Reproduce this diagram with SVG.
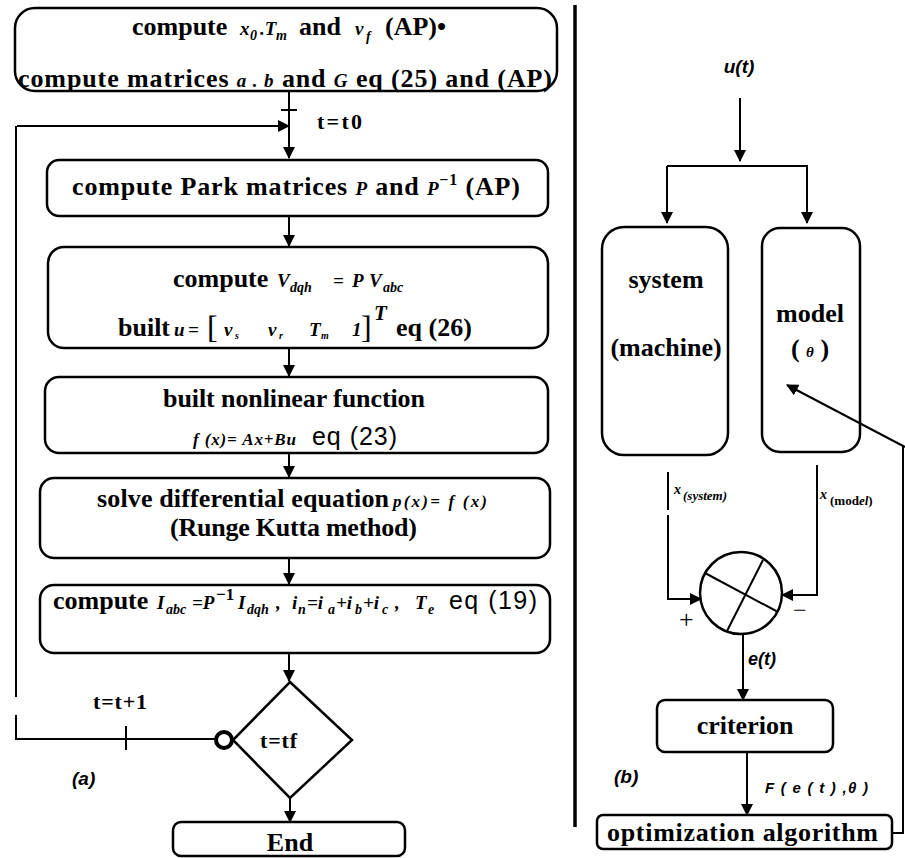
<svg xmlns="http://www.w3.org/2000/svg" width="905" height="858" viewBox="0 0 905 858">
<style>
.box{fill:none;stroke:#000;stroke-width:2.5}
.ln{fill:none;stroke:#000;stroke-width:2}
.t{font-family:"Liberation Serif",serif;font-size:26px;font-weight:bold;fill:#000}
.r{font-family:"Liberation Serif",serif;font-size:22px;font-weight:bold;fill:#000}
.m{font-family:"Liberation Serif",serif;font-style:italic;font-weight:bold;font-size:19px;fill:#000}
.sb{font-family:"Liberation Serif",serif;font-style:italic;font-weight:bold;font-size:14px;fill:#000}
.eq{font-family:"Liberation Sans",sans-serif;font-weight:normal;font-size:25px;fill:#000}
.it{font-family:"Liberation Sans",sans-serif;font-style:italic;font-weight:bold;fill:#000}
</style>
<defs>
<marker id="ar" markerWidth="12" markerHeight="12" refX="11" refY="6" orient="auto" markerUnits="userSpaceOnUse">
<path d="M0,0 L12,6 L0,12 Z" fill="#000"/>
</marker>
</defs>
<rect width="905" height="858" fill="#fff"/>

<!-- divider -->
<line x1="575" y1="5" x2="575" y2="827" stroke="#000" stroke-width="3.5"/>

<g id="connectors">
  <line class="ln" x1="289" y1="91" x2="289" y2="158" marker-end="url(#ar)"/>
  <line class="ln" x1="281" y1="110" x2="297" y2="110"/>
  <line class="ln" x1="17" y1="126" x2="289" y2="126" marker-end="url(#ar)"/>
  <line class="ln" x1="289" y1="216" x2="289" y2="246" marker-end="url(#ar)"/>
  <line class="ln" x1="289" y1="348" x2="289" y2="376" marker-end="url(#ar)"/>
  <line class="ln" x1="289" y1="453" x2="289" y2="477" marker-end="url(#ar)"/>
  <line class="ln" x1="289" y1="558" x2="289" y2="584" marker-end="url(#ar)"/>
  <line class="ln" x1="289" y1="653" x2="289" y2="681" marker-end="url(#ar)"/>
  <line class="ln" x1="290" y1="798" x2="290" y2="822" marker-end="url(#ar)"/>
  <polyline class="ln" points="215,739 16,739 16,715"/>
  <line class="ln" x1="16" y1="697" x2="16" y2="126"/>
  <line class="ln" x1="126" y1="726" x2="126" y2="750"/>
  <circle cx="224" cy="740" r="8" fill="none" stroke="#000" stroke-width="4"/>
  <line class="ln" x1="740" y1="98" x2="740" y2="161" marker-end="url(#ar)"/>
  <line class="ln" x1="667" y1="166" x2="808" y2="166"/>
  <line class="ln" x1="667" y1="166" x2="667" y2="223" marker-end="url(#ar)"/>
  <line class="ln" x1="807" y1="166" x2="807" y2="223" marker-end="url(#ar)"/>
  <line class="ln" x1="668" y1="472" x2="668" y2="510"/>
  <polyline class="ln" points="668,515 668,599 701,599" marker-end="url(#ar)"/>
  <polyline class="ln" points="817,465 817,595 782,595" marker-end="url(#ar)"/>
  <line class="ln" x1="743" y1="634" x2="743" y2="700" marker-end="url(#ar)"/>
  <line class="ln" x1="747" y1="752" x2="747" y2="815" marker-end="url(#ar)"/>
  <polyline class="ln" points="892,833 903,833 903,447"/>
  <line class="ln" x1="905" y1="447" x2="787" y2="385" marker-end="url(#ar)"/>
</g>

<g id="n_init">
  <rect class="box" x="15" y="8" width="542" height="83" rx="20"/>
  <text class="t" x="132" y="35">compute</text>
  <text class="m" x="240" y="35">x</text><text class="sb" x="250" y="40">0</text>
  <text class="m" x="260" y="35">.T</text><text class="sb" x="276" y="40">m</text>
  <text class="t" x="299" y="35">and</text>
  <text class="m" x="355" y="35">v</text><text class="sb" x="366" y="41">f</text>
  <text class="t" x="385" y="35">(AP)•</text>
  <text class="t" x="18" y="87" textLength="534">compute matrices <tspan class="m">a . b</tspan> and <tspan class="m">G</tspan> eq (25) and (AP)</text>
  <text class="r" x="317" y="129" textLength="45">t=t0</text>
</g>

<g id="n_park">
  <rect class="box" x="47" y="160" width="501" height="56" rx="12"/>
  <text class="t" x="72" y="195" textLength="448">compute Park matrices <tspan class="m">P</tspan> and <tspan class="m">P</tspan><tspan font-size="16" dy="-10">−1</tspan><tspan dy="10"> (AP)</tspan></text>
</g>

<g id="n_vdqh">
  <rect class="box" x="48" y="247" width="500" height="101" rx="16"/>
  <text class="t" x="173" y="287">compute</text>
  <text class="m" x="277" y="287">V</text><text class="sb" x="290" y="292">dqh</text>
  <text class="m" x="333" y="287">=</text><text class="m" x="352" y="287">P</text><text class="m" x="369" y="287">V</text><text class="sb" x="383" y="292">abc</text>
  <text class="t" x="118" y="336">built</text>
  <text class="m" x="174" y="336">u</text><text class="m" x="188" y="336">=</text>
  <text class="t" x="207" y="338" style="font-weight:normal;font-size:32px">[</text>
  <text class="m" x="224" y="336">v</text><text class="sb" x="235" y="339" style="font-size:10px">s</text>
  <text class="m" x="268" y="336">v</text><text class="sb" x="279" y="339" style="font-size:10px">r</text>
  <text class="m" x="309" y="336">T</text><text class="sb" x="321" y="339" style="font-size:10px">m</text>
  <text class="m" x="352" y="336">1</text>
  <text class="t" x="361" y="338" style="font-weight:normal;font-size:32px">]</text>
  <text class="m" x="374" y="320" style="font-size:21px">T</text>
  <text class="t" x="396" y="336">eq (26)</text>
</g>

<g id="n_func">
  <rect class="box" x="45" y="377" width="503" height="76" rx="14"/>
  <text class="t" x="163" y="407" textLength="262">built nonlinear function</text>
  <text class="m" x="193" y="445" style="font-size:17px" textLength="103">f (x)= Ax+Bu</text>
  <text class="eq" x="312" y="445" textLength="85">eq (23)</text>
</g>

<g id="n_solve">
  <rect class="box" x="40" y="478" width="510" height="80" rx="14"/>
  <text class="t" x="97" y="507" textLength="292">solve differential equation</text>
  <text class="m" x="393" y="507" style="font-size:17px" textLength="94">p(x)= f (x)</text>
  <text class="t" x="170" y="536" textLength="247">(Runge Kutta method)</text>
</g>

<g id="n_iabc">
  <rect class="box" x="40" y="585" width="510" height="68" rx="14"/>
  <text class="t" x="53" y="609">compute</text>
  <text class="m" x="157" y="609">I</text><text class="sb" x="166" y="614">abc</text>
  <text class="m" x="192" y="609">=P</text><text class="t" x="216" y="600" style="font-size:17px">−1</text>
  <text class="m" x="238" y="609">I</text><text class="sb" x="247" y="614">dqh</text>
  <text class="m" x="276" y="609">,</text>
  <text class="m" x="292" y="609">i</text><text class="sb" x="298" y="614">n</text>
  <text class="m" x="307" y="609">=i</text><text class="sb" x="328" y="614">a</text>
  <text class="m" x="336" y="609">+i</text><text class="sb" x="355" y="614">b</text>
  <text class="m" x="363" y="609">+i</text><text class="sb" x="382" y="614">c</text>
  <text class="m" x="395" y="609">,</text>
  <text class="m" x="415" y="609">T</text><text class="sb" x="428" y="614">e</text>
  <text class="eq" x="449" y="609" textLength="88">eq (19)</text>
</g>

<g id="n_test">
  <polygon class="box" points="290,682 352,740 290,798 233,740"/>
  <text class="r" x="260" y="748" textLength="37">t=tf</text>
  <text class="r" x="93" y="709" textLength="54">t=t+1</text>
  <text class="it" font-size="19" x="72" y="785">(a)</text>
</g>

<g id="n_end">
  <rect class="box" x="173" y="822" width="232" height="34" rx="8"/>
  <text class="t" x="290" y="851" text-anchor="middle">End</text>
</g>

<g id="n_input">
  <text class="it" font-size="19" x="739" y="73" text-anchor="middle">u(t)</text>
</g>

<g id="n_system">
  <rect class="box" x="602" y="227" width="126" height="228" rx="22"/>
  <text class="t" x="666" y="288" text-anchor="middle">system</text>
  <text class="t" x="666" y="356" text-anchor="middle">(machine)</text>
</g>

<g id="n_model">
  <rect class="box" x="762" y="228" width="98" height="224" rx="18"/>
  <text class="t" x="810" y="322" text-anchor="middle">model</text>
  <text class="t" x="810" y="357" text-anchor="middle">( <tspan class="m" style="font-size:15px">θ</tspan> )</text>
</g>

<g id="n_labels">
  <text class="m" x="674" y="494" style="font-size:14px">x</text>
  <text class="sb" x="683" y="500" style="font-size:13px">(system)</text>
  <text class="m" x="820" y="499" style="font-size:14px">x</text>
  <text class="t" x="830" y="505" style="font-size:13px">(mod<tspan font-style="italic">el</tspan>)</text>
  <text class="t" x="679" y="628" style="font-weight:normal;font-size:26px">+</text>
  <text class="t" x="793" y="618" style="font-weight:normal;font-size:24px">−</text>
  <text class="it" font-size="18" x="748" y="665">e(t)</text>
  <text class="it" font-size="15" x="765" y="793" textLength="103">F ( e ( t ) ,θ )</text>
  <text class="it" font-size="19" x="614" y="783">(b)</text>
</g>

<g id="n_compare">
  <circle cx="741" cy="593" r="41" fill="none" stroke="#000" stroke-width="2.5"/>
  <line class="ln" x1="705" y1="573" x2="778" y2="612"/>
  <line class="ln" x1="763" y1="560" x2="727" y2="631"/>
</g>

<g id="n_criterion">
  <rect class="box" x="657" y="700" width="176" height="52" rx="8"/>
  <text class="t" x="745" y="734" text-anchor="middle">criterion</text>
</g>

<g id="n_opt">
  <rect class="box" x="597" y="815" width="295" height="34" rx="6"/>
  <text class="t" x="607" y="841" textLength="271">optimization algorithm</text>
</g>
</svg>
